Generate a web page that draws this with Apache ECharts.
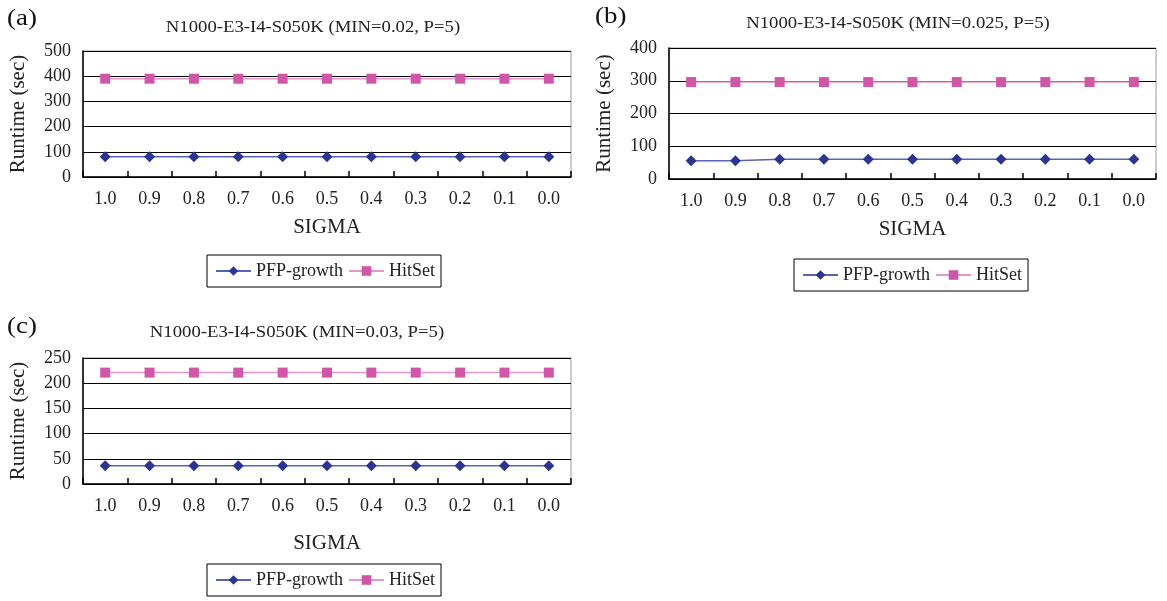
<!DOCTYPE html>
<html><head><meta charset="utf-8">
<script src="https://cdn.jsdelivr.net/npm/echarts@6/dist/echarts.min.js"></script>
<style>html,body{margin:0;padding:0;background:#fff}#c{width:1167px;height:601px}</style>
</head><body><div id="c"></div>
<script>
const sigmaLabels = ['1.0','0.9','0.8','0.7','0.6','0.5','0.4','0.3','0.2','0.1','0.0'];
const seriesNames = ['PFP-growth','HitSet'];
const titles = ['N1000-E3-I4-S050K (MIN=0.02, P=5)','N1000-E3-I4-S050K (MIN=0.025, P=5)','N1000-E3-I4-S050K (MIN=0.03, P=5)'];
const panelTags = ['(a)','(b)','(c)'];
const pfpA = [80,80,80,80,80,80,80,80,80,80,80];
const hitA = [390,390,390,390,390,390,390,390,390,390,390];
const pfpB = [56,56,60,60,60,60,60,60,60,60,60];
const hitB = [296,296,296,296,296,296,296,296,296,296,296];
const pfpC = [36,36,36,36,36,36,36,36,36,36,36];
const hitC = [221,221,221,221,221,221,221,221,221,221,221];
const yMax = [500,400,250];
const yStep = [100,100,50];

const FONT = '"Liberation Serif", "Times New Roman", serif';
const grids = [
  {left:83, top:51, width:488, height:126},
  {left:669, top:48, width:487, height:131},
  {left:83, top:358, width:488, height:126}
];
const xNameGap = [40, 40, 49];
const titlePos = [[313,28],[898,24],[297,333]];
const tagPos = [[7,19],[595,17],[7,327]];
const legendPos = [[207,255],[794,259],[207,564]];
const dataSets = [[pfpA,hitA],[pfpB,hitB],[pfpC,hitC]];

const PFP_MARK = '#2B3591', PFP_LINE = '#5862B6';
const HIT_MARK = '#D057A8', HIT_LINE = '#E597CC';

const option = {
  animation:false,
  backgroundColor:'#fff',
  textStyle:{fontFamily:FONT},
  grid: grids.map(g => Object.assign({show:true, borderColor:'#9a9a9a', borderWidth:1, backgroundColor:'transparent'}, g)),
  xAxis: grids.map((g,i) => ({
    type:'category', gridIndex:i, data:sigmaLabels, boundaryGap:true,
    name:'SIGMA', nameLocation:'middle', nameGap:xNameGap[i],
    nameTextStyle:{fontFamily:FONT, fontSize:21, color:'#222'},
    axisLine:{lineStyle:{color:'#000', width:1.5}},
    axisTick:{show:true, inside:true, length:6, alignWithLabel:false, lineStyle:{color:'#000', width:1.5}},
    axisLabel:{fontFamily:FONT, fontSize:18, color:'#222', margin:13, interval:0},
    splitLine:{show:false}
  })),
  yAxis: grids.map((g,i) => ({
    type:'value', gridIndex:i, min:0, max:yMax[i], interval:yStep[i],
    name:'Runtime (sec)', nameLocation:'middle', nameGap:54,
    nameTextStyle:{fontFamily:FONT, fontSize:21, color:'#222'},
    axisLine:{show:true, lineStyle:{color:'#000', width:1.5}},
    axisTick:{show:false},
    axisLabel:{fontFamily:FONT, fontSize:18, color:'#222', margin:12},
    splitLine:{show:true, lineStyle:{color:'#000', width:1}}
  })),
  legend: legendPos.map((p,i) => ({
    left:p[0], top:p[1], orient:'horizontal',
    data:seriesNames.map(n => n + (i===0?'':'\u200b'.repeat(i))),
    formatter: n => n.replace(/\u200b/g,''),
    borderColor:'#000', borderWidth:1, padding:[7,6,7,8],
    itemWidth:35, itemHeight:12, itemGap:5,
    textStyle:{fontFamily:FONT, fontSize:18, color:'#222'}
  })),
  graphic: titles.map((t,i) => ({
    type:'text', x:titlePos[i][0], y:titlePos[i][1], scaleX:1.1,
    style:{text:t, font:'17px ' + FONT, fill:'#222', textAlign:'center', textVerticalAlign:'middle'}
  })).concat(panelTags.map((t,i) => ({
    type:'text', x:tagPos[i][0], y:tagPos[i][1], scaleX:1.12,
    style:{text:t, font:'24px ' + FONT, fill:'#111', textAlign:'left', textVerticalAlign:'middle'}
  }))),
  series: []
};
dataSets.forEach((ds,i) => {
  const suf = i===0?'':'\u200b'.repeat(i);
  option.series.push({
    name:seriesNames[0]+suf, type:'line', xAxisIndex:i, yAxisIndex:i, data:ds[0],
    symbol:'diamond', symbolSize:11, itemStyle:{color:PFP_MARK},
    lineStyle:{color:PFP_LINE, width:1.5}
  });
  option.series.push({
    name:seriesNames[1]+suf, type:'line', xAxisIndex:i, yAxisIndex:i, data:ds[1],
    symbol:'rect', symbolSize:10, itemStyle:{color:HIT_MARK},
    lineStyle:{color:HIT_LINE, width:1.5}
  });
});
const chart = echarts.init(document.getElementById('c'));
chart.setOption(option);
</script></body></html>
